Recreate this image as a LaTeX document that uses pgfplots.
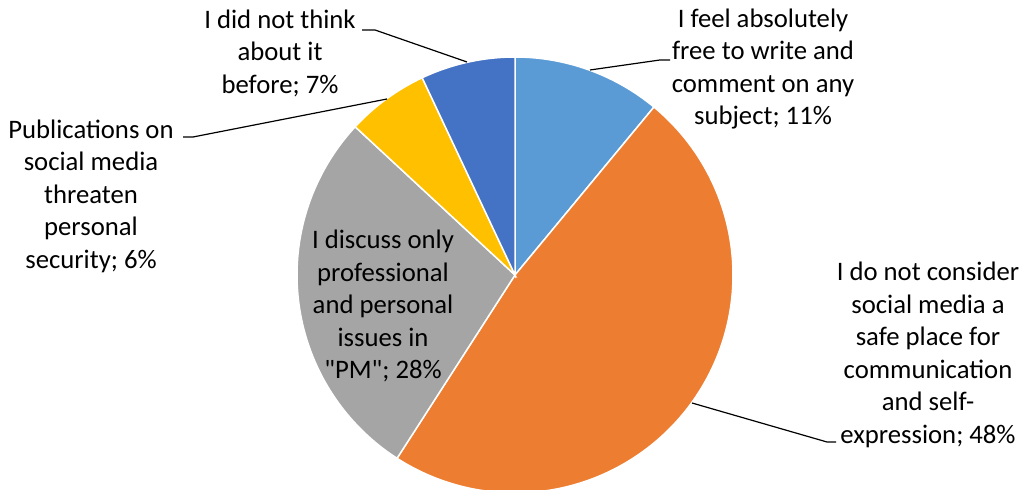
\documentclass[border=0pt]{standalone}
\usepackage{pgfplots}
\pgfplotsset{compat=1.18}
\usepackage{fontspec}
\setmainfont{Carlito}[Ligatures=TeXOff]
\definecolor{cA}{HTML}{5B9BD5}
\definecolor{cB}{HTML}{ED7D31}
\definecolor{cC}{HTML}{A5A5A5}
\definecolor{cD}{HTML}{FFC000}
\definecolor{cE}{HTML}{4472C4}
% shares in percent (clockwise from 12 o'clock)
\def\pA{11.0}\def\pB{48.1}\def\pC{27.8}\def\pD{6.1}\def\pE{7.0}
\tikzset{lbl/.style={font=\fontsize{13.35}{16.25}\selectfont, align=center, inner sep=0pt}}
\begin{document}
\begin{tikzpicture}
\path[use as bounding box] (0,0) rectangle (510.5pt,245pt);
\pgfmathsetmacro\aA{3.6*\pA}
\pgfmathsetmacro\aB{\aA+3.6*\pB}
\pgfmathsetmacro\aC{\aB+3.6*\pC}
\pgfmathsetmacro\aD{\aC+3.6*\pD}
\pgfmathsetmacro\aE{\aD+3.6*\pE}
\begin{axis}[hide axis, scale only axis, width=510.5pt, height=245pt,
  at={(0,0)}, anchor=south west,
  xmin=0, xmax=1021, ymin=0, ymax=490, y dir=reverse, clip=false]
\def\cx{515}\def\cy{275}\def\r{218}
\addplot[fill=cA, draw=white, line width=0.75pt, domain=0:\aA, samples=40, variable=\t]
  ({\cx+\r*sin(\t)}, {\cy-\r*cos(\t)}) -- (axis cs:\cx,\cy) -- cycle;
\addplot[fill=cB, draw=white, line width=0.75pt, domain=\aA:\aB, samples=120, variable=\t]
  ({\cx+\r*sin(\t)}, {\cy-\r*cos(\t)}) -- (axis cs:\cx,\cy) -- cycle;
\addplot[fill=cC, draw=white, line width=0.75pt, domain=\aB:\aC, samples=80, variable=\t]
  ({\cx+\r*sin(\t)}, {\cy-\r*cos(\t)}) -- (axis cs:\cx,\cy) -- cycle;
\addplot[fill=cD, draw=white, line width=0.75pt, domain=\aC:\aD, samples=20, variable=\t]
  ({\cx+\r*sin(\t)}, {\cy-\r*cos(\t)}) -- (axis cs:\cx,\cy) -- cycle;
\addplot[fill=cE, draw=white, line width=0.75pt, domain=\aD:\aE, samples=20, variable=\t]
  ({\cx+\r*sin(\t)}, {\cy-\r*cos(\t)}) -- (axis cs:\cx,\cy) -- cycle;
% leader lines
\draw[black, line width=0.6pt] (axis cs:590,70) -- (axis cs:660,60) -- (axis cs:670,60);
\draw[black, line width=0.6pt] (axis cs:692,403) -- (axis cs:827,442) -- (axis cs:836,442);
\draw[black, line width=0.6pt] (axis cs:387,99) -- (axis cs:193,137) -- (axis cs:183,137);
\draw[black, line width=0.6pt] (axis cs:467,62) -- (axis cs:375,30) -- (axis cs:362,30);
% labels
\node[lbl] at (axis cs:763,69) {I feel absolutely\\free to write and\\comment on any\\subject; 11\%};
\node[lbl] at (axis cs:928,355) {I do not consider\\social media a\\safe place for\\communication\\and self-\\expression; 48\%};
\node[lbl] at (axis cs:383,306) {I discuss only\\professional\\and personal\\issues in\\"PM"; 28\%};
\node[lbl] at (axis cs:91,196) {Publications on\\social media\\threaten\\personal\\security; 6\%};
\node[lbl] at (axis cs:280,53) {I did not think\\about it\\before; 7\%};
\end{axis}
\end{tikzpicture}
\end{document}
